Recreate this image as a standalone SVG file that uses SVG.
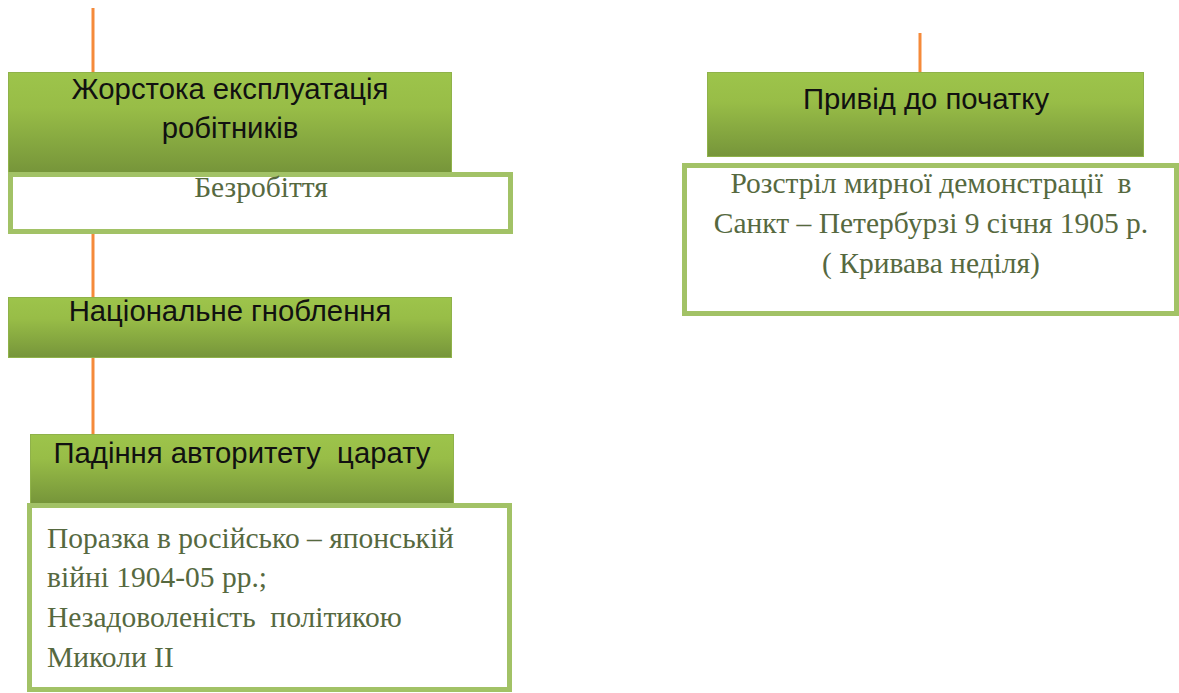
<svg xmlns="http://www.w3.org/2000/svg" width="1179" height="693" viewBox="0 0 1179 693">
<defs>
<linearGradient id="g" x1="0" y1="0" x2="0" y2="1">
<stop offset="0" stop-color="#9dc44b"/>
<stop offset="0.35" stop-color="#98bd47"/>
<stop offset="1" stop-color="#76953a"/>
</linearGradient>
</defs>
<style>
.hdr{fill:url(#g);stroke:#8fb24a;stroke-width:1}
.box{fill:#ffffff;stroke:#a2c266;stroke-width:5}
.ht{font-family:"Liberation Sans",Arial,sans-serif;font-size:29.3px;fill:#111;text-anchor:middle;white-space:pre}
.bt{font-family:"Liberation Serif","Times New Roman",serif;font-size:29.5px;fill:#56693f;white-space:pre}
.c{stroke:#f58a3a;stroke-width:3;fill:none}
</style>
<rect width="1179" height="693" fill="#ffffff"/>
<g id="connectors">
<line class="c" x1="93" y1="8" x2="93" y2="434"/>
<line class="c" x1="920" y1="33" x2="920" y2="72"/>
</g>
<g id="n1">
<rect class="hdr" x="8.5" y="72.5" width="443" height="100"/>
<text class="ht" x="230" y="99">Жорстока експлуатація</text>
<text class="ht" x="230" y="138">робітників</text>
</g>
<g id="n1b">
<rect class="box" x="10.5" y="174.5" width="500" height="57"/>
<text class="bt" x="261" y="197" text-anchor="middle">Безробіття</text>
</g>
<g id="n2">
<rect class="hdr" x="8.5" y="297.5" width="443" height="60"/>
<text class="ht" x="230" y="321">Національне гноблення</text>
</g>
<g id="n3">
<rect class="hdr" x="30.5" y="434.5" width="423" height="69"/>
<text class="ht" x="242" y="463">Падіння авторитету  царату</text>
</g>
<g id="n3b">
<rect class="box" x="29.5" y="505.5" width="480" height="184"/>
<text class="bt" x="47" y="548">Поразка в російсько – японській</text>
<text class="bt" x="47" y="587">війні 1904-05 рр.;</text>
<text class="bt" x="47" y="627">Незадоволеність  політикою</text>
<text class="bt" x="47" y="667">Миколи ІІ</text>
</g>
<g id="n4">
<rect class="hdr" x="707.5" y="72.5" width="436" height="84"/>
<text class="ht" x="926" y="109">Привід до початку</text>
</g>
<g id="n4b">
<rect class="box" x="684.5" y="165.5" width="492" height="148"/>
<text class="bt" x="931" y="193" text-anchor="middle">Розстріл мирної демонстрації  в</text>
<text class="bt" x="931" y="233" text-anchor="middle">Санкт – Петербурзі 9 січня 1905 р.</text>
<text class="bt" x="931" y="273" text-anchor="middle">( Кривава неділя)</text>
</g>
</svg>
